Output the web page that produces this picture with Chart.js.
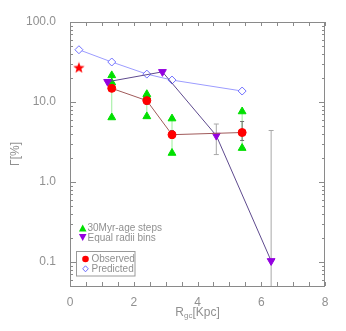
<!DOCTYPE html>
<html>
<head>
<meta charset="utf-8">
<script src="https://cdn.jsdelivr.net/npm/chart.js@4.4.1/dist/chart.umd.min.js"></script>
<style>
  html, body { margin: 0; padding: 0; background: #fff; }
  #wrap { width: 346px; height: 331px; }
</style>
</head>
<body>
<div id="wrap"><canvas id="myChart"></canvas></div>
<script>
// predicted (open diamonds)
const predX = [0.28, 1.31, 2.41, 3.2, 5.4];
const predY = [45, 31.6, 22.3, 18.8, 13.7];

// observed (red circles) and their error bars
const obsX = [1.31, 2.41, 3.2, 5.4];
const obsY = [14.8, 10.4, 3.9, 4.15];
const obsLo = [13.6, 9.3, 3.5, 3.3];
const obsHi = [16.0, 11.8, 4.4, 5.7];

// 30Myr-age steps (green up triangles)
const ageX = [1.31, 1.31, 1.31, 2.41, 2.41, 2.41, 3.2, 3.2, 5.4, 5.4];
const ageY = [21.5, 17.5, 6.4, 12.5, 11.6, 6.6, 6.2, 2.3, 7.6, 2.65];

// equal radii bins (purple down triangles)
const radX = [1.18, 2.9, 4.59, 6.31];
const radY = [17.9, 23.8, 3.8, 0.103];
const radLo = [null, null, 2.2, 0.01];
const radHi = [null, null, 5.3, 4.4];

// red star
const starX = [0.28];
const starY = [27];

const yTicks = [0.1, 1, 10, 100];
const axisGrey = '#8a8a8a';
const textGrey = '#909090';
const fontFam = '"Liberation Sans", Arial, sans-serif';

function pts(xs, ys) {
    return xs.map((x, i) => ({ x: x, y: ys[i] }));
}

// filled star image used as point style
const starImg = document.createElement('canvas');
starImg.width = 12; starImg.height = 12;
(function () {
    const c = starImg.getContext('2d');
    c.fillStyle = '#ff0000';
    c.beginPath();
    for (let i = 0; i < 10; i++) {
        const r = i % 2 === 0 ? 6 : 2.5;
        const a = -Math.PI / 2 + i * Math.PI / 5;
        const px = 6 + r * Math.cos(a), py = 6.5 + r * Math.sin(a);
        if (i === 0) c.moveTo(px, py); else c.lineTo(px, py);
    }
    c.closePath();
    c.fill();
})();

function vbar(ctx, xs, x, y1, y2, cap) {
    const px = xs.x.getPixelForValue(x);
    const a = xs.y.getPixelForValue(y1);
    const b = xs.y.getPixelForValue(y2);
    ctx.beginPath();
    ctx.moveTo(px, a); ctx.lineTo(px, b);
    if (cap) {
        ctx.moveTo(px - cap, a); ctx.lineTo(px + cap, a);
        ctx.moveTo(px - cap, b); ctx.lineTo(px + cap, b);
    }
    ctx.stroke();
}

// green span lines + grey error bars, drawn under the markers
const errorBars = {
    id: 'errorBars',
    beforeDatasetsDraw(chart) {
        const ctx = chart.ctx;
        const s = chart.scales;
        const area = chart.chartArea;
        ctx.save();
        ctx.beginPath();
        ctx.rect(area.left, area.top, area.right - area.left, area.bottom - area.top);
        ctx.clip();
        // green vertical lines joining the age steps at each radius
        ctx.strokeStyle = '#9aee9a';
        ctx.lineWidth = 1;
        const groups = {};
        ageX.forEach((x, i) => {
            (groups[x] = groups[x] || []).push(ageY[i]);
        });
        Object.keys(groups).forEach(k => {
            vbar(ctx, s, +k, Math.min(...groups[k]), Math.max(...groups[k]), 0);
        });
        ctx.strokeStyle = '#a8a8a8';
        radX.forEach((x, i) => {
            if (radLo[i] !== null) vbar(ctx, s, x, radLo[i], radHi[i], 2.5);
        });
        ctx.strokeStyle = '#707070';
        obsX.forEach((x, i) => vbar(ctx, s, x, obsLo[i], obsHi[i], 2));
        ctx.restore();
    }
};

// box, inward ticks, legends and axis titles
const frame = {
    id: 'frame',
    afterDraw(chart) {
        const ctx = chart.ctx;
        const a = chart.chartArea;
        const xs = chart.scales.x, ys = chart.scales.y;
        ctx.save();
        ctx.strokeStyle = axisGrey;
        ctx.lineWidth = 1;
        ctx.strokeRect(a.left + 0.5, a.top + 0.5, a.right - a.left - 1, a.bottom - a.top);

        ctx.beginPath();
        for (let v = 0; v <= 8.001; v += 0.5) {
            const px = Math.round(xs.getPixelForValue(v)) + 0.5;
            const len = 4;
            ctx.moveTo(px, a.bottom); ctx.lineTo(px, a.bottom - len);
            ctx.moveTo(px, a.top); ctx.lineTo(px, a.top + len);
        }
        for (let e = -2; e <= 1; e++) {
            for (let m = 1; m <= 9; m++) {
                const v = m * Math.pow(10, e);
                if (v < 0.05 || v > 100) continue;
                const py = Math.round(ys.getPixelForValue(v)) + 0.5;
                const len = m === 1 ? 6 : 3;
                ctx.moveTo(a.left, py); ctx.lineTo(a.left + len, py);
                ctx.moveTo(a.right, py); ctx.lineTo(a.right - len, py);
            }
        }
        const py100 = Math.round(ys.getPixelForValue(100)) + 0.5;
        ctx.moveTo(a.left, py100); ctx.lineTo(a.left + 6, py100);
        ctx.moveTo(a.right, py100); ctx.lineTo(a.right - 6, py100);
        ctx.stroke();

        // y axis title
        ctx.fillStyle = textGrey;
        ctx.font = '12px ' + fontFam;
        ctx.textAlign = 'center';
        ctx.textBaseline = 'middle';
        ctx.save();
        ctx.translate(16, (a.top + a.bottom) / 2);
        ctx.rotate(-Math.PI / 2);
        ctx.fillText('Γ[%]', 0, 0);
        ctx.restore();

        // x axis title with subscript
        ctx.textBaseline = 'alphabetic';
        ctx.textAlign = 'left';
        const big = '12px ' + fontFam;
        const small = '8px ' + fontFam;
        ctx.font = big;
        const wR = ctx.measureText('R').width;
        const wK = ctx.measureText('[Kpc]').width;
        ctx.font = small;
        const wG = ctx.measureText('gc').width;
        let tx = (a.left + a.right) / 2 - (wR + wG + wK) / 2;
        const ty = 316;
        ctx.font = big; ctx.fillText('R', tx, ty); tx += wR;
        ctx.font = small; ctx.fillText('gc', tx, ty + 2); tx += wG;
        ctx.font = big; ctx.fillText('[Kpc]', tx, ty);

        // legends
        ctx.font = '10px ' + fontFam;
        ctx.textBaseline = 'middle';
        ctx.fillStyle = '#00e000';
        ctx.beginPath();
        ctx.moveTo(82.7, 224.5); ctx.lineTo(86.5, 231.5); ctx.lineTo(78.9, 231.5);
        ctx.closePath(); ctx.fill();
        ctx.fillStyle = '#9400e0';
        ctx.beginPath();
        ctx.moveTo(78.9, 234); ctx.lineTo(86.5, 234); ctx.lineTo(82.7, 241);
        ctx.closePath(); ctx.fill();
        ctx.fillStyle = textGrey;
        ctx.fillText('30Myr-age steps', 87.5, 228.5);
        ctx.fillText('Equal radii bins', 87.5, 238);

        ctx.strokeStyle = '#9a9a9a';
        ctx.strokeRect(76.5, 251.5, 58.5, 24.5);
        ctx.fillStyle = '#ff0000';
        ctx.beginPath(); ctx.arc(85.5, 259, 3.3, 0, Math.PI * 2); ctx.fill();
        ctx.strokeStyle = '#6a6aff';
        ctx.beginPath();
        ctx.moveTo(85.5, 265.8); ctx.lineTo(88.3, 268.8); ctx.lineTo(85.5, 271.8); ctx.lineTo(82.7, 268.8);
        ctx.closePath(); ctx.stroke();
        ctx.fillStyle = textGrey;
        ctx.fillText('Observed', 91.5, 259);
        ctx.fillText('Predicted', 91.5, 269);
        ctx.restore();
    }
};

const ctx = document.getElementById('myChart').getContext('2d');

let myChart = new Chart(ctx, {
    type: 'scatter',
    data: {
        datasets: [
            { label: 'Observed', data: pts(obsX, obsY), showLine: true, borderColor: '#a05a5a', borderWidth: 1,
              pointStyle: 'circle', pointRadius: 4, pointBackgroundColor: '#ff0000', pointBorderColor: '#ff0000', order: 1 },
            { label: 'Equal radii bins', data: pts(radX, radY), showLine: true, borderColor: '#5e4a8e', borderWidth: 1,
              pointStyle: 'triangle', pointRotation: 180, pointRadius: 4.5, pointBackgroundColor: '#9400e0', pointBorderColor: '#9400e0', order: 2 },
            { label: '30Myr-age steps', data: pts(ageX, ageY), showLine: false,
              pointStyle: 'triangle', pointRadius: 4.5, pointBackgroundColor: '#00e000', pointBorderColor: '#00e000', order: 3 },
            { label: 'Predicted', data: pts(predX, predY), showLine: true, borderColor: '#9c9cff', borderWidth: 1,
              pointStyle: 'rectRot', pointRadius: 4, pointBackgroundColor: '#ffffff', pointBorderColor: '#7070ff', pointBorderWidth: 1, order: 4 },
            { label: 'Star', data: pts(starX, starY), showLine: false, pointStyle: starImg, order: 5 }
        ]
    },
    plugins: [errorBars, frame],
    options: {
        responsive: true,
        maintainAspectRatio: false,
        animation: false,
        layout: { padding: { left: 0, top: 22, right: 21, bottom: 0 } },
        plugins: { legend: { display: false }, tooltip: { enabled: false } },
        scales: {
            x: {
                type: 'linear', min: 0, max: 8,
                grid: { display: false }, border: { display: false },
                ticks: { stepSize: 2, padding: 1, color: textGrey, font: { family: fontFam, size: 12 } },
                afterFit: (scale) => { scale.height = 45; }
            },
            y: {
                type: 'logarithmic', min: 0.05, max: 100,
                grid: { display: false }, border: { display: false },
                afterBuildTicks: (scale) => { scale.ticks = yTicks.map(v => ({ value: v })); },
                ticks: { padding: 6, color: textGrey, font: { family: fontFam, size: 12 },
                         callback: (v) => Number(v).toFixed(1) },
                afterFit: (scale) => { scale.width = 70; }
            }
        }
    }
});
</script>
</body>
</html>
